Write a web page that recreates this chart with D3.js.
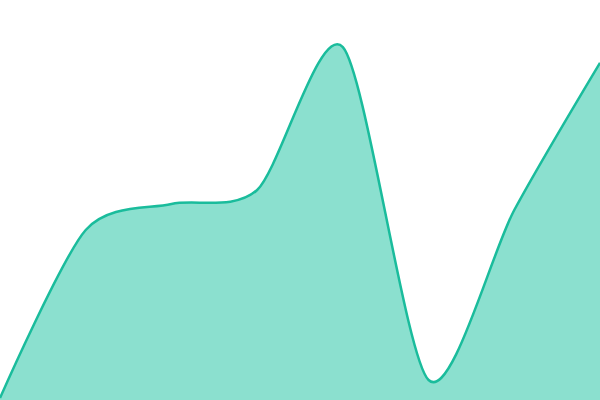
<!DOCTYPE html>
<html>
<head>
<meta charset="utf-8">
<script src="https://cdn.jsdelivr.net/npm/d3@7"></script>
<style>
  body { margin: 0; background: #fff; }
  svg { display: block; }
</style>
</head>
<body>
<script>
// values, one per evenly spaced step
const steps = [0, 1, 2, 3, 4, 5, 6, 7];
const values = [0.5, 42.5, 49, 52.5, 88.2, 5, 47.5, 84.3];

const w = 600;
const h = 400;

const svg = d3.select('body').append('svg').attr('width', w).attr('height', h);

const xScale = d3.scaleLinear().domain([0, steps.length - 1]).range([0, w]);
const yScale = d3.scaleLinear().domain([0, 100]).range([h, 0]);

const data = steps.map((s, i) => ({ x: s, y: values[i] }));

const curve = d3.curveCardinal.tension(0.2);

const area = d3
  .area()
  .x((d) => xScale(d.x))
  .y0(h)
  .y1((d) => yScale(d.y))
  .curve(curve);

const line = d3
  .line()
  .x((d) => xScale(d.x))
  .y((d) => yScale(d.y))
  .curve(curve);

svg.append('path').datum(data).attr('d', area).attr('fill', '#8be0cf');

svg
  .append('path')
  .datum(data)
  .attr('d', line)
  .attr('fill', 'none')
  .attr('stroke', '#1abc9c')
  .attr('stroke-width', 2.5);
</script>
</body>
</html>
